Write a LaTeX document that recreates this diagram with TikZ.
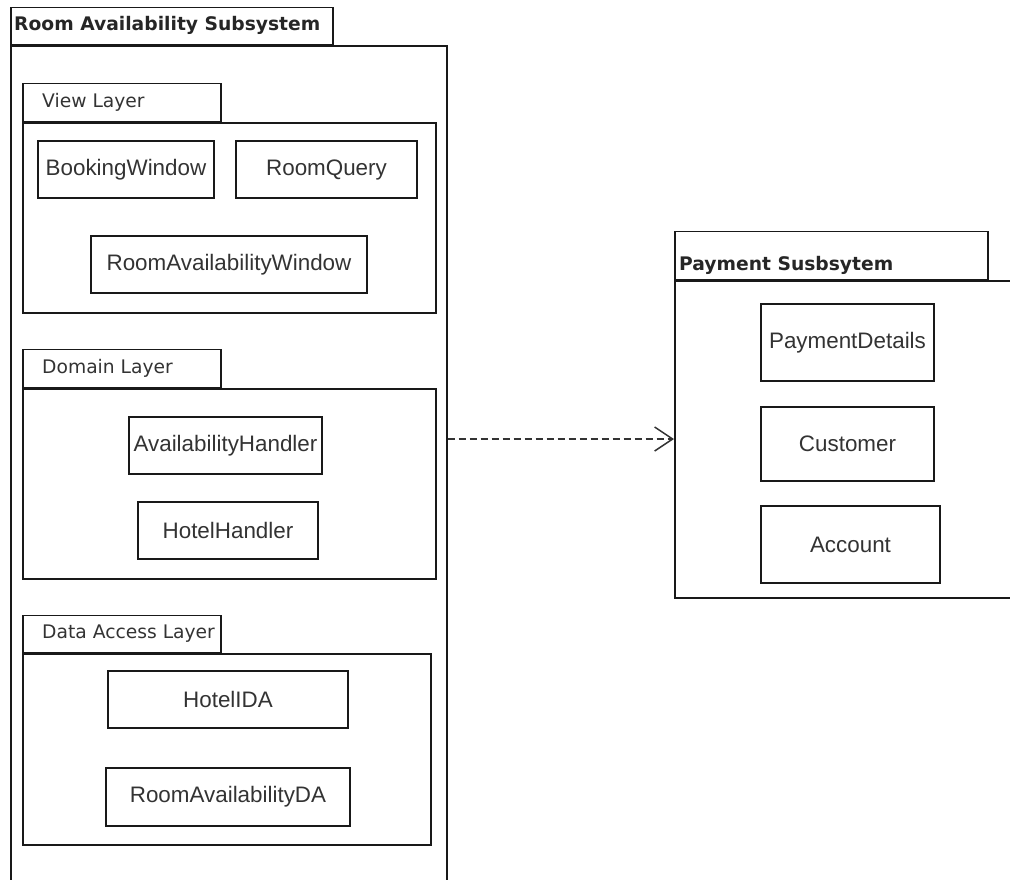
\documentclass[tikz,border=0pt]{standalone}
\usepackage{fontspec}
\setmainfont{Liberation Sans}
\newfontfamily\pkgfont{DejaVu Sans}
\usetikzlibrary{positioning,arrows.meta}
\definecolor{inkgray}{HTML}{333333}
\tikzset{
	cls/.style={draw=black!90, line width=1.5pt, inner sep=0pt, minimum height=57pt, font=\fontsize{22.4}{26}\selectfont, text=inkgray},
	pkgbody/.style={draw=black!90, line width=1.5pt, inner sep=0pt, anchor=north west},
	pkgtab/.style={draw=black!90, line width=1.5pt, inner sep=0pt, anchor=south west},
	layerlabel/.style={font=\pkgfont\fontsize{18.7}{22}\selectfont, text=inkgray, inner sep=0pt},
	syslabel/.style={font=\pkgfont\bfseries\fontsize{18.7}{22}\selectfont, text=black!85, inner sep=0pt},
	dep/.style={dash pattern=on 7pt off 4pt, line width=1.5pt, draw=black!80, -{Straight Barb[length=18pt,width=24pt]}},
}

\begin{document}
\begin{tikzpicture}[x=1pt,y=-1pt]
		\useasboundingbox (0,0) rectangle (1010,879);
		\clip (0,0) rectangle (1010,879);
		% room availability subsystem
		\node[pkgbody, minimum width=436pt, minimum height=870pt] (roombody) at (10,45) {};
		\node[pkgtab, minimum width=322pt, minimum height=37pt] (roomtab) at (roombody.north west) {};
		\node[syslabel, right=4pt of roomtab.west] (roomname) {Room Availability Subsystem};
		%
		\node[pkgbody, minimum width=413pt, minimum height=190pt] (viewbody) at (22,122) {};
		\node[pkgtab, minimum width=198pt, minimum height=38pt] (viewtab) at (viewbody.north west) {};
		\node[layerlabel, right=20pt of viewtab.west] (viewname) {View Layer};
		\node[cls, minimum width=176pt] (bookwin) at (126,169.5) {BookingWindow};
		\node[cls, minimum width=181pt] (roomquery) at (326.5,169.5) {RoomQuery};
		\node[cls, minimum width=276pt] (roomavwin) at (229,264.5) {RoomAvailabilityWindow};
		%
		\node[pkgbody, minimum width=413pt, minimum height=190pt] (domainbody) at (22,388) {};
		\node[pkgtab, minimum width=198pt, minimum height=38pt] (domaintab) at (domainbody.north west) {};
		\node[layerlabel, right=20pt of domaintab.west] (domainname) {Domain Layer};
		\node[cls, minimum width=193pt] (avhandler) at (225.5,445.5) {AvailabilityHandler};
		\node[cls, minimum width=180pt] (hotelhandler) at (228,530.5) {HotelHandler};
		%
		\node[pkgbody, minimum width=408pt, minimum height=191pt] (databody) at (22,653) {};
		\node[pkgtab, minimum width=198pt, minimum height=37pt] (datatab) at (databody.north west) {};
		\node[layerlabel, right=20pt of datatab.west] (dataname) {Data Access Layer};
		\node[cls, minimum width=240pt] (hotelda) at (228,699.5) {HotelIDA};
		\node[cls, minimum width=244pt, minimum height=58pt] (roomavda) at (228,797) {RoomAvailabilityDA};
		% payment subsystem
		\node[pkgbody, minimum width=360pt, minimum height=317pt] (paybody) at (674,280) {};
		\node[pkgtab, minimum width=313pt, minimum height=48pt] (paytab) at (paybody.north west) {};
		\node[syslabel, anchor=base west] (payname) at ([shift={(5,-10)}]paytab.south west) {Payment Susbsytem};
		\node[cls, minimum width=173pt, minimum height=77pt] (paydetails) at (847.5,342.5) {PaymentDetails};
		\node[cls, minimum width=173pt, minimum height=74pt] (customer) at (847.5,444) {Customer};
		\node[cls, minimum width=179pt, minimum height=77pt] (account) at (850.5,544.5) {Account};
		%
		\coordinate (deplevel) at (0,439);
		\draw[dep] (roombody.east |- deplevel) -- (paybody.west |- deplevel);
\end{tikzpicture}
\end{document}
